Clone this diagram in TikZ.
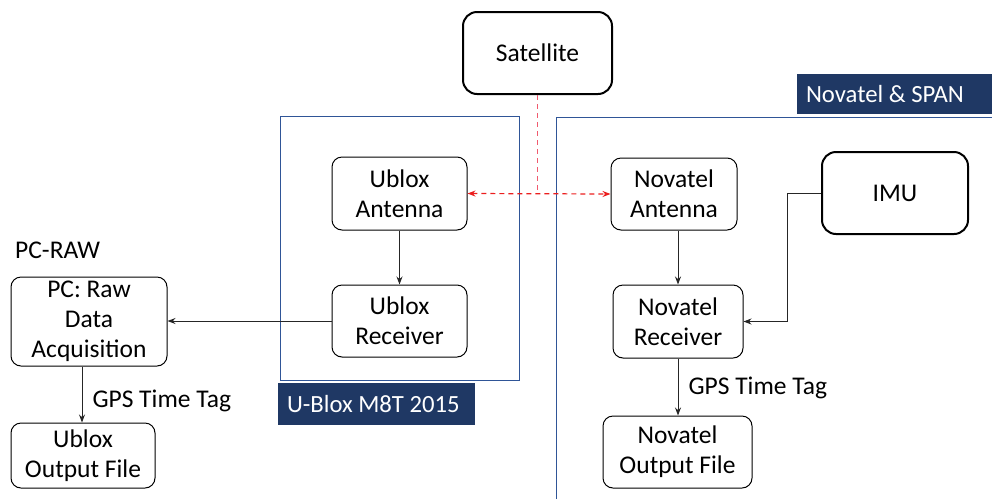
\documentclass[tikz,border=0pt]{standalone}
\usepackage{fontspec}
\setmainfont{Carlito}
\usetikzlibrary{arrows.meta}
\definecolor{navy}{RGB}{31,56,100}
\definecolor{grpline}{RGB}{47,85,151}
\definecolor{sigred}{RGB}{235,30,30}
\definecolor{sigpink}{RGB}{240,90,110}
\tikzset{
  box/.style={draw=black, line width=1pt, rounded corners=10pt, align=center, inner sep=0pt, font=\fontsize{25.5}{30}\selectfont},
  bigbox/.style={box, line width=2pt, rounded corners=14pt},
  tag/.style={fill=navy, text=white, inner ysep=0pt, inner xsep=9pt, align=flush left, font=\fontsize{24.7}{29}\selectfont},
  lbl/.style={font=\fontsize{25.5}{30}\selectfont, inner sep=0pt},
  conn/.style={draw=black!85, line width=1pt, -{Stealth[length=8pt,width=6pt]}},
  sig/.style={draw=sigred, line width=1.2pt, dashed, dash pattern=on 5pt off 4pt},
}
\begin{document}
\begin{tikzpicture}[x=1pt,y=-1pt]
\useasboundingbox (0,0) rectangle (992,499);
% groups
\draw[grpline, line width=1pt] (280,116) rectangle (519,380);
\draw[grpline, line width=1pt] (556,499) -- (556,117) -- (992,117);
\node[tag, text width=179pt, minimum height=42pt] (tagublox) at (376.5,404) {U-Blox M8T 2015};
\node[tag, text width=177pt, minimum height=40pt] (tagnov) at (894.5,94) {Novatel \& SPAN};
% nodes
\node[bigbox, minimum width=149pt, minimum height=82pt] (sat) at (537.5,53) {Satellite};
\node[box, minimum width=135pt, minimum height=73pt] (uant) at (399.5,193.5) {Ublox\\Antenna};
\node[box, minimum width=135pt, minimum height=72pt] (urec) at (399.5,321) {Ublox\\Receiver};
\node[box, minimum width=126pt, minimum height=72pt] (nant) at (674,194) {Novatel\\Antenna};
\node[bigbox, minimum width=146pt, minimum height=82pt] (imu) at (895,193) {IMU};
\node[box, minimum width=130pt, minimum height=73pt] (nrec) at (678,321.5) {Novatel\\Receiver};
\node[box, minimum width=149pt, minimum height=72pt] (nout) at (677.5,452) {Novatel\\Output File};
\node[box, minimum width=156pt, minimum height=89pt] (pc) at (89,321.5) {PC: Raw\\Data\\Acquisition};
\node[box, minimum width=144pt, minimum height=65pt] (uout) at (83,455.5) {Ublox\\Output File};
\node[lbl, anchor=west] (pcraw) at (15,250) {PC-RAW};
% connectors
\draw[conn] (uant) -- (urec);
\draw[conn] (urec.west) -- (pc.east |- urec.west);
\draw[conn] (nant.south -| nrec.north) -- (nrec.north);
\draw[conn] (imu.west) -- (787,193) |- (nrec.east);
\draw[conn] (nrec.south) -- node[lbl, right=10pt, pos=0.52] (tagr) {GPS Time Tag} (nrec.south |- nout.north);
\draw[conn] (pc.south -| 82,0) -- node[lbl, right=10pt, pos=0.62] (tagl) {GPS Time Tag} (uout.north -| 82,0);
% signal
\coordinate (junc) at (sat.south |- uant.east);
\draw[sig, draw=sigpink, line width=1.4pt] (sat.south) -- (junc);
\draw[sig, {Stealth[length=8pt,width=6pt]}-{Stealth[length=8pt,width=6pt]}] (uant.east) -- (nant.west);
\end{tikzpicture}
\end{document}
